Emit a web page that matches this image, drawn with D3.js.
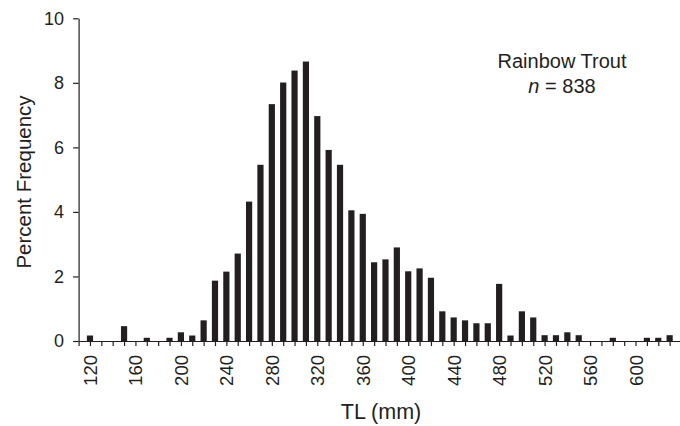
<!DOCTYPE html>
<html>
<head>
<meta charset="utf-8">
<script src="https://cdn.jsdelivr.net/npm/d3@7"></script>
<style>
  body { margin: 0; background: #fff; }
  svg text { font-family: "Liberation Sans", Arial, sans-serif; fill: #231f20; }
</style>
</head>
<body>
<svg id="chart" width="680" height="426"></svg>
<script>
// Bins (total length, mm) and percent frequency per bin
const bins = [110, 120, 130, 140, 150, 160, 170, 180, 190, 200,
    210, 220, 230, 240, 250, 260, 270, 280, 290, 300,
    310, 320, 330, 340, 350, 360, 370, 380, 390, 400,
    410, 420, 430, 440, 450, 460, 470, 480, 490, 500,
    510, 520, 530, 540, 550, 560, 570, 580, 590, 600,
    610, 620, 630];
const percent = [0, 0.17, 0, 0, 0.46, 0, 0.1, 0, 0.1, 0.27,
    0.17, 0.64, 1.87, 2.15, 2.71, 4.32, 5.46, 7.34, 8.01, 8.38,
    8.66, 6.97, 5.92, 5.46, 4.05, 3.94, 2.44, 2.53, 2.90, 2.16,
    2.25, 1.96, 0.92, 0.73, 0.64, 0.55, 0.55, 1.77, 0.17, 0.92,
    0.73, 0.18, 0.18, 0.27, 0.18, 0, 0, 0.1, 0, 0,
    0.1, 0.1, 0.18];
const xLabels = [120, 160, 200, 240, 280, 320, 360, 400, 440, 480, 520, 560, 600];
const yTicks = [0, 2, 4, 6, 8, 10];

const data = bins.map((b, i) => ({ bin: b, value: percent[i] }));
const ink = "#231f20";

const svg = d3.select("#chart");

const xScale = d3.scaleLinear().domain([110, 640]).range([78.6, 681]);
const yScale = d3.scaleLinear().domain([0, 10]).range([341, 18.3]);
const barWidth = 6.2;

// Bars
svg.append("g")
    .selectAll("rect")
    .data(data.filter(d => d.value > 0))
    .join("rect")
    .attr("x", d => xScale(d.bin) - barWidth / 2)
    .attr("y", d => yScale(d.value))
    .attr("width", barWidth)
    .attr("height", d => yScale(0) - yScale(d.value))
    .attr("fill", ink);

// X axis
const xAxis = d3.axisBottom(xScale)
    .tickValues(bins)
    .tickSize(5)
    .tickSizeOuter(0)
    .tickFormat(d => xLabels.includes(d) ? d : "");

const gx = svg.append("g")
    .attr("transform", `translate(0, ${yScale(0)})`)
    .call(xAxis);
gx.selectAll("path, line").attr("stroke", ink).attr("stroke-width", 1.2);
gx.selectAll("text")
    .attr("transform", "rotate(-90)")
    .attr("x", -14)
    .attr("y", 0)
    .attr("dy", "0.35em")
    .attr("text-anchor", "end")
    .style("font-size", "18.5px")
    .attr("fill", ink);

// Y axis
const yAxis = d3.axisLeft(yScale)
    .tickValues(yTicks)
    .tickSize(5.5)
    .tickSizeOuter(0);

const gy = svg.append("g")
    .attr("transform", `translate(${xScale(110)}, 0)`)
    .call(yAxis);
gy.selectAll("path, line").attr("stroke", ink).attr("stroke-width", 1.2);
gy.selectAll("text")
    .attr("x", -14.5)
    .style("font-size", "18px")
    .attr("fill", ink);

// Axis titles
svg.append("text")
    .attr("x", 381)
    .attr("y", 419)
    .attr("text-anchor", "middle")
    .style("font-size", "21.5px")
    .text("TL (mm)");

svg.append("text")
    .attr("transform", `translate(30.5, 182) rotate(-90)`)
    .attr("text-anchor", "middle")
    .style("font-size", "20.5px")
    .text("Percent Frequency");

// Legend note
svg.append("text")
    .attr("x", 562)
    .attr("y", 68)
    .attr("text-anchor", "middle")
    .style("font-size", "20px")
    .text("Rainbow Trout");

const nText = svg.append("text")
    .attr("x", 562)
    .attr("y", 93)
    .attr("text-anchor", "middle")
    .style("font-size", "20px");
nText.append("tspan").style("font-style", "italic").text("n");
nText.append("tspan").text(" = 838");
</script>
</body>
</html>
